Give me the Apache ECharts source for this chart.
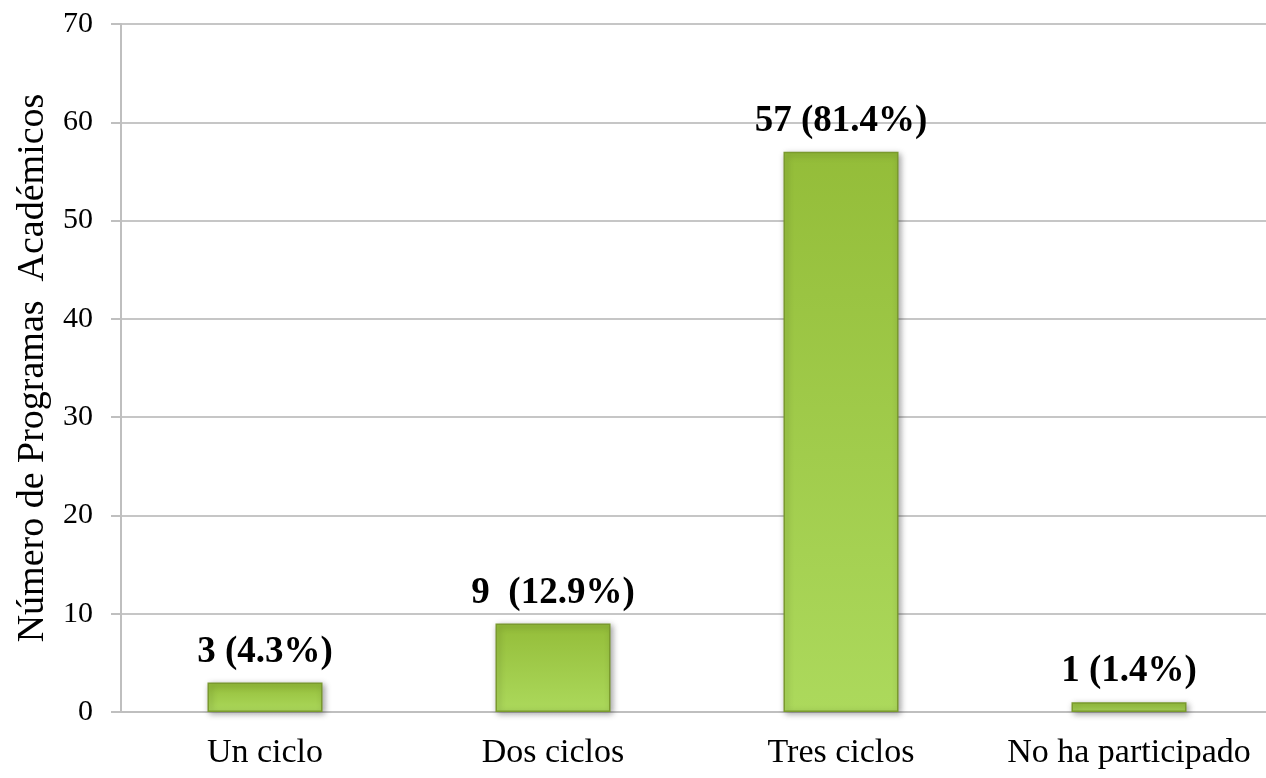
<!DOCTYPE html>
<html>
<head>
<meta charset="utf-8">
<script src="https://cdn.jsdelivr.net/npm/echarts@6/dist/echarts.min.js"></script>
<style>html,body{margin:0;padding:0;background:#fff;}#c{width:1266px;height:778px;}</style>
</head>
<body>
<div id="c"></div>
<script>
const categories = ['Un ciclo', 'Dos ciclos', 'Tres ciclos', 'No ha participado'];
const values = [3, 9, 57, 1];
const barLabels = ['3 (4.3%)', '9  (12.9%)', '57 (81.4%)', '1 (1.4%)'];
const yTicks = { min: 0, max: 70, interval: 10 };
const yTitle = 'Número de Programas  Académicos';

const font = 'Liberation Serif, Times New Roman, serif';
const chart = echarts.init(document.getElementById('c'));
chart.setOption({
  backgroundColor: '#ffffff',
  animation: false,
  grid: { left: 121, right: -7, top: 24, bottom: 66, outerBoundsMode: 'none', containLabel: false },
  xAxis: {
    type: 'category',
    data: categories,
    axisLine: { show: true, lineStyle: { color: '#bfbfbf', width: 2 } },
    axisTick: { show: false },
    axisLabel: { color: '#000', fontFamily: font, fontSize: 34, margin: 24, interval: 0, hideOverlap: false }
  },
  yAxis: {
    type: 'value',
    min: yTicks.min, max: yTicks.max, interval: yTicks.interval,
    name: yTitle,
    nameLocation: 'middle',
    nameGap: 67,
    nameRotate: 90,
    nameTextStyle: { color: '#000', fontFamily: font, fontSize: 38 },
    axisLine: { show: true, lineStyle: { color: '#bfbfbf', width: 2 } },
    axisTick: { show: true, length: 10, lineStyle: { color: '#bfbfbf', width: 2 } },
    axisLabel: { color: '#000', fontFamily: font, fontSize: 30, margin: 28 },
    splitLine: { show: true, lineStyle: { color: '#c6c6c6', width: 2 } }
  },
  series: [{
    type: 'bar',
    data: values,
    barWidth: 115,
    itemStyle: {
      color: new echarts.graphic.LinearGradient(0, 0, 0, 1, [
        { offset: 0, color: '#94bd39' },
        { offset: 1, color: '#acd95c' }
      ]),
      borderColor: '#7a9a2e',
      borderWidth: 1.5,
      shadowBlur: 6,
      shadowColor: 'rgba(0,0,0,0.35)',
      shadowOffsetX: 2,
      shadowOffsetY: 2
    },
    label: {
      show: true,
      position: 'top',
      distance: 12,
      color: '#000',
      fontFamily: font,
      fontSize: 37,
      fontWeight: 'bold',
      formatter: p => barLabels[p.dataIndex]
    }
  }]
});
</script>
</body>
</html>
